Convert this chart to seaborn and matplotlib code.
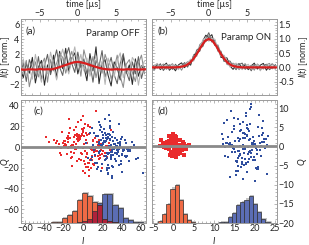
import numpy as np
import matplotlib
matplotlib.use("Agg")
import matplotlib.pyplot as plt
from matplotlib.ticker import AutoMinorLocator, FormatStrFormatter
import seaborn as sns

# ---------------- data ----------------
# single-shot traces, panel (a) paramp off, sampled every 0.4 us from -7.6 us
trace_start, trace_step = -7.6, 0.4
off_traces = [
    [0.2, -1.1, 0.8, -0.5, 1.6, -1.8, 0.3, 1.2, -2.1, 0.6, -0.4, 1.9, -1.2, 2.4, 0.1, 2.8, -0.3, 1.5, 2.2, -0.6, 1.1,
     0.4, -1.5, 2.1, -0.2, 3.0, -1.9, 0.7, 1.3, -0.8, -2.2, 1.0, 0.2, -1.4, 1.8, -0.5, 0.6, -2.0, 1.4, -0.9, 0.5, -0.1],
    [-0.8, 0.9, -1.6, 1.3, 0.2, -0.9, 1.7, -1.3, 0.4, 2.0, -0.7, 0.9, 2.6, 0.3, -0.8, 1.6, 2.9, 0.8, -0.4, 2.3, 0.2,
     1.4, -0.6, 0.9, -1.7, 1.2, 0.4, 2.5, -1.0, 0.3, 1.6, -0.7, -1.9, 0.8, 2.1, -0.3, -1.5, 1.0, -0.6, 1.7, -1.2, 0.4],
    [0.5, -0.3, 1.2, -2.3, -0.4, 1.0, -1.0, 0.6, 1.5, -1.7, 1.3, -0.2, 0.8, 2.1, 1.6, -0.5, 1.0, 2.4, 0.5, 1.8, -0.9,
     2.6, 1.0, -0.4, 1.7, -1.1, 0.9, -0.5, 2.0, 0.7, -1.3, 0.1, 1.9, -0.9, -2.4, 0.7, 1.3, -0.4, -1.6, 0.8, 1.9, -0.6],
    [-0.4, 1.4, -0.9, 0.3, -1.3, 2.0, -0.2, -1.7, 1.1, -0.6, 2.3, 0.5, -1.4, 1.2, 2.7, 0.9, -0.6, 1.3, 3.0, 0.4, 2.0,
     -0.2, 1.5, -0.9, 0.6, 1.8, -0.3, 1.1, -2.0, 1.5, 0.2, -1.0, 1.2, 2.2, -1.1, 0.5, -0.8, 1.6, 0.9, -2.1, 0.3, 1.1],
]
# panel (b) paramp on
on_traces = [
    [0.10, -0.05, 0.12, -0.08, 0.05, 0.15, -0.10, 0.02, -0.12, 0.09, 0.16, -0.01, 0.13, 0.08, 0.43, 0.52, 0.57, 0.93,
     1.13, 1.05, 1.15, 0.78, 0.75, 0.35, 0.35, 0.33, 0.05, -0.07, 0.08, 0.13, -0.04, 0.10, -0.08, 0.05, 0.15, -0.06,
     0.08, 0.14, -0.10, 0.05, 0.12, -0.03],
    [-0.06, 0.08, -0.02, 0.13, -0.11, 0.04, 0.09, -0.07, 0.11, -0.03, 0.04, 0.17, 0.01, 0.24, 0.26, 0.61, 0.69, 0.73,
     1.01, 1.22, 0.89, 0.95, 0.57, 0.57, 0.21, 0.23, 0.22, 0.05, -0.08, 0.10, 0.15, -0.07, 0.04, -0.12, 0.09, 0.02,
     -0.09, 0.06, 0.11, -0.08, 0.00, 0.10],
    [0.04, -0.10, 0.07, 0.02, 0.12, -0.07, 0.05, 0.13, -0.03, 0.07, -0.10, 0.10, 0.20, 0.14, 0.43, 0.39, 0.80, 0.89,
     0.90, 1.12, 1.03, 0.77, 0.79, 0.49, 0.40, 0.10, 0.08, 0.15, 0.06, -0.08, 0.06, 0.13, -0.02, 0.08, -0.10, 0.12,
     0.03, -0.06, 0.09, 0.14, -0.05, 0.06],
    [-0.12, 0.06, 0.14, -0.04, 0.02, 0.10, -0.05, 0.08, 0.03, -0.08, 0.09, 0.03, 0.16, 0.29, 0.22, 0.51, 0.59, 0.96,
     1.05, 0.92, 1.01, 0.99, 0.62, 0.39, 0.43, 0.24, 0.01, 0.10, 0.15, 0.03, -0.08, 0.04, 0.11, -0.05, 0.03, 0.10,
     -0.12, 0.07, -0.02, 0.09, 0.13, -0.09],
]
trace_greys = ["#2a2a2a", "#606060", "#8c8c8c", "#b5b5b5"]

# averaged traces (red), every 0.5 us from -7.5 us
mean_start, mean_step = -7.5, 0.5
off_mean = [0.0, -0.05, 0.02, 0.0, -0.03, 0.05, 0.0, 0.02, 0.0, 0.12, 0.28, 0.45, 0.62, 0.8, 0.95, 1.0, 0.92, 0.8,
            0.62, 0.45, 0.3, 0.15, 0.05, 0.0, -0.02, 0.03, 0.0, -0.03, 0.02, 0.0, 0.03, -0.02, 0.0, 0.02]
on_mean = [0.0, 0.0, 0.0, 0.0, 0.0, 0.0, 0.0, 0.01, 0.03, 0.07, 0.16, 0.31, 0.51, 0.74, 0.93, 1.0, 0.93, 0.74, 0.51,
           0.31, 0.16, 0.07, 0.03, 0.01, 0.0, 0.0, 0.0, 0.0, 0.0, 0.0, 0.0, 0.0, 0.0, 0.0]

# IQ clouds, panel (c) paramp off
c_red_I = [-3, 12, -18, 5, 1, -9, 22, -14, 7, -2, 16, -25, 3, -7, 10,
           -11, 0, 19, -5, 8, -20, 4, -1, 13, -16, 27, -6, 2, -12, 9,
           6, -23, 15, -4, -8, 11, -30, 1, 18, -13, 4, -2, 24, -17, 7,
           -10, 3, -6, 14, -19, 0, 9, -26, 12, -3, 5, -15, 20, -8, 2,
           17, -5, -12, 8, -1, 28, -21, 6, -9, 13, -4, 31, -14, 3, -7,
           10, -18, 1, 5, -24, 15, -2, -11, 21, -6, 7, -16, 0, 12, -35,
           -4, 19, -9, 4, -13, 2, 16, -20, 8, -1, 25, -7, 11, -28, 6,
           -15, 9, 3, -5, 18, -10, -2, 14, -22, 5, -8, 23, -3, 0, 13,
           -17, 7, -12, 26, -6, 2, -19, 10, 1, -27, 15, -4, 8, -14, 20,
           4, -9, 12, -1, -23, 6, 17, -11, 3, 29, -16, 9, -5, 0, -38]
c_red_Q = [8, -4, 2, -15, 11, 5, -9, 0, 19, -6, -12, 3, 14, -2, 7,
           -10, 16, -3, 6, -20, 1, 12, -7, -1, 9, 4, -14, 22, -5, 0,
           13, -8, 5, 10, -2, -17, 7, 3, -11, 18, -6, 26, 1, 9, -13,
           2, -19, 11, -4, 6, 15, -9, 0, -3, 8, 21, -1, -7, 12, -16,
           -5, 9, 1, -12, 17, -3, 4, -22, 10, 0, 7, -8, 14, -10, 3,
           6, 0, -14, 20, -6, 2, 11, -18, -4, 13, -1, 8, 30, -9, 5,
           -12, 3, 16, -7, 9, -25, 1, 6, -2, 12, -10, 19, -5, 4, -15,
           11, -3, 7, 24, -8, 2, -13, 5, 15, -19, 0, -6, 10, -1, 35,
           -7, 14, -11, 1, 8, -4, 3, -16, 18, 6, -9, 12, -2, 27, -20,
           4, -6, 9, 13, -1, -28, 7, 2, -10, 16, 5, -13, 0, -23, 10]
c_blue_I = [25, 38, 14, 29, 21, 45, 31, 9, 27, 36, 18, 33, 24, 50, 28,
            19, 30, 42, 23, 12, 35, 26, 40, 16, 32, 28, 5, 37, 22, 47,
            29, 15, 34, 26, 44, 20, 31, 11, 39, 25, 53, 17, 27, 36, 24,
            33, 8, 28, 41, 19, 30, 23, 46, 13, 35, 26, 38, 21, 62, 30,
            18, 27, 43, 22, 34, 10, 29, 37, 25, 16, 48, 31, 24, 40, 20,
            36, 26, 14, 32, 28, 55, 21, 33, 7, 39, 27, 23, 44, 17, 30,
            24, 40, 29, 12, 35, 26, 19, 31, 42, 22, 37, 28, 3, 33, 25,
            41, 20, 27, 34, 15, 30, 46, 23, 38, 18, 29, 51, 26, 13, 32,
            28, 36, 21, 9, 33, 25, 43, 30, 17, 39, 24, 35, 20, 57, 27,
            31, 16, 37, 26, 45, 22, 29, 11, 34, 40, 19, 28, 48, 23, 35]
c_blue_Q = [-6, 5, -15, 2, 12, -9, -1, 18, -20, 4, -4, 9, -12, 0, 25,
            7, -18, -3, 14, -8, 1, -25, 10, -5, 3, 20, -11, -2, 6, -14,
            -10, 11, 0, -7, 4, -16, 15, -3, 8, -22, 2, -6, 13, -1, -9,
            3, -13, 8, -4, 19, -28, 5, -2, 11, -7, -17, 1, 9, -25, -5,
            16, -1, -9, 6, -14, 2, -5, 22, -11, 4, -3, -19, 12, -8, 0,
            -4, 10, -21, -2, 7, -12, 3, -6, 14, -16, 1, 27, -10, 5, -30,
            9, -7, 2, -15, -3, 13, -23, 6, -1, 17, -9, 0, 4, -12, 8,
            -2, 15, -6, 1, -19, 10, -4, -13, 3, 21, -8, 5, -26, 11, -1,
            12, -5, 4, -10, 0, -20, 7, -3, 24, -14, 6, -7, 1, -11, 31,
            -8, 3, -17, 9, -2, 5, -12, 14, -6, -24, 2, 18, -4, -9, 7]

# IQ clouds, panel (d) paramp on
d_red_I = [0.3, -1.2, 1.5, -0.4, 0.9, -2.1, 0.0, 1.8, -0.8, 0.5, 2.6, -1.5, 0.2, -0.1, 1.1,
           -0.6, 2.0, -1.9, 0.7, -0.2, 1.3, -2.8, 0.4, 1.0, -1.0, 0.1, 2.3, -0.5, 1.6, -1.4,
           0.8, -0.3, 1.2, -2.4, 0.6, 3.2, -0.9, 0.2, -1.7, 1.9, -0.1, 0.5, -1.1, 2.2, 0.0,
           1.4, -0.7, 0.3, -1.3, 2.8, -0.2, 0.9, -2.0, 1.1, -0.5, 0.6, -3.3, 1.7, 0.1, -0.8,
           -0.4, 1.0, -1.6, 0.4, 2.4, -0.6, 1.3, -2.5, 0.7, 0.0, 1.5, -1.2, 3.8, 0.2, -0.9,
           0.9, -1.8, 0.5, 1.6, -0.3, 2.1, -1.0, 0.3, -2.2, 1.2, 0.0, -0.7, 1.8, -1.4, 0.6,
           -0.2, 2.5, -1.1, 0.8, -3.0, 0.4, 1.4, -0.6, 0.1, 2.0, -1.5, 0.7, -0.4, 1.0, -2.6,
           1.7, -0.1, 0.6, -1.9, 1.2, -0.8, 3.0, 0.2, -1.3, 0.9, -0.3, 1.5, -2.3, 0.4, 2.7]
d_red_Q = [0.5, -0.8, 0.2, 1.4, -1.6, 0.0, 2.2, -0.3, 0.9, -2.0, 0.6, 1.1, -1.2, 0.3, -0.5,
           1.7, -0.1, 0.8, -2.5, 0.4, -1.0, 0.1, 2.6, -0.7, 1.2, -1.8, 0.3, 1.5, -0.4, 0.0,
           -1.3, 2.0, -0.6, 0.7, 1.0, -0.2, -2.3, 1.6, 0.2, -0.9, 3.1, -1.5, 0.5, -0.1, 1.3,
           -0.7, 0.4, -1.9, 1.1, 0.0, 2.4, -1.1, 0.6, -0.4, 1.8, -2.8, 0.2, -0.8, 1.4, 0.9,
           2.1, -1.4, 0.7, -0.2, 1.2, -2.1, 0.3, 1.0, -0.6, 0.0, -1.7, 2.7, 0.4, -1.0, 1.5,
           -0.3, 0.8, 1.9, -1.2, 0.1, -0.7, 1.3, -2.6, 0.6, -0.1, 2.3, -1.6, 0.2, 0.9, -0.4,
           1.0, -2.2, 0.3, -0.5, 1.7, 0.5, -1.3, 0.0, 2.8, -0.9, 0.7, -0.3, 1.4, -1.9, 0.2,
           -1.1, 0.6, 2.5, -0.4, 0.1, 1.2, -0.6, -1.5, 0.8, 0.3, -2.4, 1.6, -0.2, 0.7, -0.8]
d_blue_I = [17.2, 20.1, 14.5, 18.8, 16.0, 21.9, 15.3, 19.4, 12.8, 17.9, 22.6, 16.7, 18.3, 13.9, 20.5,
            15.8, 18.6, 21.3, 17.0, 14.2, 19.8, 16.4, 23.0, 18.1, 15.1, 20.8, 17.5, 12.2, 19.1, 16.9,
            21.5, 14.8, 18.4, 16.2, 20.3, 13.5, 17.7, 22.1, 15.6, 19.6, 17.1, 11.9, 18.9, 16.5, 21.0,
            16.1, 19.3, 13.2, 17.8, 22.9, 15.0, 18.5, 20.6, 14.0, 17.3, 21.7, 16.8, 19.0, 12.6, 18.2,
            19.9, 15.5, 17.6, 21.2, 14.6, 18.0, 16.3, 23.4, 17.4, 13.7, 20.4, 15.9, 18.7, 22.3, 16.6,
            14.3, 18.6, 20.0, 16.0, 19.5, 17.0, 12.4, 21.6, 15.2, 18.3, 16.4, 20.9, 13.1, 17.9, 19.2,
            17.6, 21.1, 15.7, 19.7, 14.9, 18.1, 22.4, 16.2, 17.3, 13.4, 20.2, 18.8, 15.4, 21.8, 17.0,
            18.4, 16.5, 12.9, 20.7, 17.7, 15.0, 19.3, 22.0, 16.9, 18.6, 14.4, 20.3, 17.2, 13.8, 19.5,
            16.0, 21.4, 18.2, 14.7, 19.0, 17.5, 23.1, 15.8, 18.9, 16.3, 20.6, 12.3, 17.8, 19.7, 15.3]
d_blue_Q = [2.1, -3.5, 0.4, 5.8, -1.2, 3.0, -6.3, 1.0, -2.4, 7.9, -0.5, 4.2, -4.1, 0.8, -1.9,
            -5.0, 1.7, -0.9, 3.6, 9.2, -2.8, 0.2, -7.1, 2.9, -1.5, 5.1, -3.2, 0.6, 11.0, -4.6,
            0.0, 4.5, -2.0, 1.3, -5.7, 2.4, -0.3, 6.5, -3.8, 0.9, -8.4, 3.3, -1.1, 2.0, 8.1,
            -2.6, 0.5, 6.9, -4.4, 1.8, -0.7, 3.9, -6.0, 0.3, -1.8, 4.8, -3.0, 10.3, -0.2, 2.7,
            1.4, -7.6, 3.1, -1.0, 0.1, 5.5, -2.2, 2.6, -4.9, 0.7, -0.4, 7.2, -3.4, 1.1, -5.3,
            3.7, -1.4, -9.0, 2.2, -3.6, 0.4, 6.1, -2.5, 1.5, -0.1, 4.0, -5.5, 0.9, 8.6, -1.7,
            -0.8, 2.8, -4.2, 0.0, 5.3, -6.7, 1.9, -1.3, 3.4, -2.9, 0.6, 9.7, -3.7, 1.2, -0.6,
            4.6, -2.1, 0.8, -5.9, 2.3, 7.5, -0.9, 3.5, -4.0, 1.6, -1.6, 0.2, 6.3, -7.9, 2.5,
            -3.1, 1.0, 4.9, -0.5, -2.7, 3.2, 0.3, -6.5, 2.0, 5.9, -1.0, 1.8, -4.7, 0.7, 12.0]

# histograms of I (bar heights in Q-axis units above the panel floor)
c_hist_start, c_hist_width = -32.6, 5.25
c_red_hist = [0.6, 1.3, 4.5, 7.7, 11.6, 22, 29.3, 26, 20.6, 17.4, 4, 1.5, 0.5, 0, 0, 0, 0, 0]
c_blue_hist = [0, 0, 0, 0, 0.3, 0.5, 1.5, 4, 12, 19, 28, 28, 17.4, 14.2, 4.5, 2.5, 1, 0.5]
d_red_start, d_red_width = -3.75, 1.0
d_red_hist = [0.4, 2.4, 5.0, 9.0, 9.8, 5.9, 2.4, 0.7, 0.2]
d_blue_start, d_blue_width = 11.3, 1.03
d_blue_hist = [0.2, 0.35, 1.6, 2.6, 4.6, 5.5, 6.1, 7.0, 5.0, 2.9, 1.1, 0.3]

# ---------------- style ----------------
sns.set_theme(style="ticks")
plt.rcParams["font.family"] = ["Lato", "DejaVu Sans"]
plt.rcParams["mathtext.fontset"] = "custom"
plt.rcParams["mathtext.it"] = "Lato:italic"
plt.rcParams["mathtext.rm"] = "Lato"
fs = 6.5
frame = "#9a9a9a"
red_pt, blue_pt = "#ea2a2c", "#2f4e9e"
red_bar, blue_bar, both_bar = "#ef6a45", "#5b6db4", "#b0223a"

fig = plt.figure(figsize=(3.09, 2.45), dpi=100)
W, H = 309, 245
ax_a = fig.add_axes([21 / W, 150 / H, 125 / W, 76 / H])
ax_b = fig.add_axes([152 / W, 150 / H, 125 / W, 76 / H])
ax_c = fig.add_axes([21 / W, 22 / H, 125 / W, 123 / H])
ax_d = fig.add_axes([152 / W, 22 / H, 125 / W, 123 / H])


def style_axes(ax):
    for s in ax.spines.values():
        s.set_color(frame)
        s.set_linewidth(0.7)
    ax.xaxis.set_minor_locator(AutoMinorLocator(5))
    ax.yaxis.set_minor_locator(AutoMinorLocator(5))
    ax.tick_params(which="both", direction="in", color=frame, width=0.5,
                   top=True, bottom=True, left=True, right=True,
                   labelsize=fs, pad=1.0, labelcolor="#222222")
    ax.tick_params(which="major", length=2.5)
    ax.tick_params(which="minor", length=1.3)


def draw_traces(ax, traces, mean):
    for y, c in zip(traces, trace_greys):
        t = trace_start + trace_step * np.arange(len(y))
        sns.lineplot(x=t, y=y, ax=ax, color=c, lw=0.75, zorder=2)
    tm = mean_start + mean_step * np.arange(len(mean))
    sns.lineplot(x=tm, y=mean, ax=ax, color="#d81e1e", lw=1.6, zorder=3)


def draw_hist(ax, start, width, heights, color, floor, dy):
    h = np.asarray(heights, dtype=float)
    left = start + width * np.arange(len(h))
    m = h > 0
    ax.bar(left[m] + 0.3 * width, h[m] + dy, width=width, bottom=floor, align="edge",
           color="#c4c4c4", edgecolor="none", zorder=2)
    ax.bar(left[m], h[m], width=width, bottom=floor, align="edge", color=color,
           edgecolor="#303030", linewidth=0.5, zorder=3)
    return left, h


# ---------------- (a) ----------------
draw_traces(ax_a, off_traces, off_mean)
ax_a.set_xlim(-7.5, 9)
ax_a.set_ylim(-3.4, 6.7)
ax_a.set_xticks([-5, 0, 5])
ax_a.set_yticks([-2, 0, 2, 4, 6])
style_axes(ax_a)
ax_a.tick_params(labeltop=True, labelbottom=False)
ax_a.xaxis.set_label_position("top")
ax_a.set_xlabel("time [µs]", fontsize=fs)
ax_a.xaxis.set_label_coords(0.5, 1.155)
ax_a.set_ylabel(r"$I(t)$ [norm.]", fontsize=fs)
ax_a.yaxis.set_label_coords(-0.068, 0.5)
ax_a.text(0.04, 0.9, "(a)", transform=ax_a.transAxes, fontsize=fs + 0.5, va="top")
ax_a.text(0.95, 0.87, "Paramp OFF", transform=ax_a.transAxes, fontsize=fs + 0.5, va="top", ha="right")

# ---------------- (b) ----------------
draw_traces(ax_b, on_traces, on_mean)
ax_b.set_xlim(-7.5, 9)
ax_b.set_ylim(-0.97, 1.7)
ax_b.set_xticks([-5, 0, 5])
ax_b.set_yticks([-0.5, 0.0, 0.5, 1.0, 1.5])
ax_b.yaxis.set_major_formatter(FormatStrFormatter("%.1f"))
style_axes(ax_b)
ax_b.tick_params(labeltop=True, labelbottom=False, labelleft=False, labelright=True)
ax_b.xaxis.set_label_position("top")
ax_b.yaxis.set_label_position("right")
ax_b.set_xlabel("time [µs]", fontsize=fs)
ax_b.xaxis.set_label_coords(0.5, 1.155)
ax_b.set_ylabel(r"$I(t)$ [norm.]", fontsize=fs)
ax_b.yaxis.set_label_coords(1.155, 0.5)
ax_b.text(0.04, 0.9, "(b)", transform=ax_b.transAxes, fontsize=fs + 0.5, va="top")
ax_b.text(0.95, 0.82, "Paramp ON", transform=ax_b.transAxes, fontsize=fs + 0.5, va="top", ha="right")

# ---------------- (c) ----------------
c_floor = -73.5
sns.scatterplot(x=c_red_I, y=c_red_Q, ax=ax_c, color=red_pt, s=4, marker="s", linewidth=0, zorder=2)
sns.scatterplot(x=c_blue_I, y=c_blue_Q, ax=ax_c, color=blue_pt, s=3.5, marker="s", linewidth=0, zorder=2)
ax_c.axhline(0, color="#8a8a8a", lw=2, zorder=4)
left, hb = draw_hist(ax_c, c_hist_start, c_hist_width, c_blue_hist, blue_bar, c_floor, 1.0)
_, hr = draw_hist(ax_c, c_hist_start, c_hist_width, c_red_hist, red_bar, c_floor, 1.0)
overlap = np.minimum(hr, hb)
m = overlap > 0
ax_c.bar(left[m], overlap[m], width=c_hist_width, bottom=c_floor, align="edge",
         color=both_bar, edgecolor="#303030", linewidth=0.5, zorder=4)
ax_c.set_xlim(-64, 65)
ax_c.set_ylim(c_floor, 45.5)
ax_c.set_xticks(np.arange(-60, 61, 20))
ax_c.set_yticks(np.arange(-60, 41, 20))
style_axes(ax_c)
ax_c.set_xlabel(r"$I$", fontsize=fs)
ax_c.xaxis.set_label_coords(0.5, -0.095)
ax_c.set_ylabel(r"$Q$", fontsize=fs)
ax_c.yaxis.set_label_coords(-0.068, 0.5)
ax_c.text(0.1, 0.95, "(c)", transform=ax_c.transAxes, fontsize=fs + 0.5, va="top")

# ---------------- (d) ----------------
d_floor = -20
sns.scatterplot(x=d_red_I, y=d_red_Q, ax=ax_d, color=red_pt, s=6, marker="s", linewidth=0, zorder=2)
sns.scatterplot(x=d_blue_I, y=d_blue_Q, ax=ax_d, color=blue_pt, s=3.5, marker="s", linewidth=0, zorder=2)
ax_d.axhline(0, color="#8a8a8a", lw=2, zorder=4)
draw_hist(ax_d, d_red_start, d_red_width, d_red_hist, red_bar, d_floor, 0.3)
draw_hist(ax_d, d_blue_start, d_blue_width, d_blue_hist, blue_bar, d_floor, 0.3)
ax_d.set_xlim(-5.3, 25.5)
ax_d.set_ylim(d_floor, 12.1)
ax_d.set_xticks(np.arange(-5, 26, 5))
ax_d.set_yticks(np.arange(-20, 11, 5))
style_axes(ax_d)
ax_d.tick_params(labelleft=False, labelright=True)
ax_d.yaxis.set_label_position("right")
ax_d.set_xlabel(r"$I$", fontsize=fs)
ax_d.xaxis.set_label_coords(0.5, -0.095)
ax_d.set_ylabel(r"$Q$", fontsize=fs)
ax_d.yaxis.set_label_coords(1.155, 0.5)
ax_d.text(0.04, 0.95, "(d)", transform=ax_d.transAxes, fontsize=fs + 0.5, va="top")

fig.savefig("out.png", dpi=100)
